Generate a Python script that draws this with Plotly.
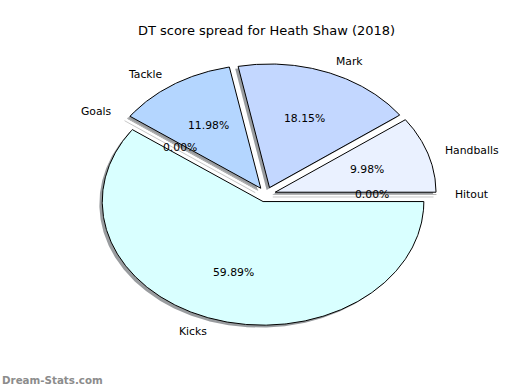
import numpy as np
import plotly.graph_objects as go

# ---- data ----
labels = ["Handballs", "Mark", "Tackle", "Goals", "Kicks", "Hitout"]
values = [9.98, 18.15, 11.98, 0.00, 59.89, 0.00]
colors = ["#eaf1ff", "#c3d7ff", "#b4d6ff", "#c8e0ff", "#d9ffff", "#f0f8ff"]
explode = [0.06, 0.06, 0.06, 0.06, 0.06, 0.06]
title_text = "DT score spread for Heath Shaw (2018)"
watermark = "Dream-Stats.com"

FONT = "DejaVu Sans"
SHADOW_DX, SHADOW_DY = -0.018, -0.02
SHADOW_COLOR = "rgba(70,75,80,0.55)"

total = sum(values)
fracs = [v / total for v in values]
starts = np.cumsum([0] + fracs[:-1]) * 360.0

fig = go.Figure()
shadow_traces, wedge_traces, annotations = [], [], []

for lab, v, f, t1, col, ex in zip(labels, values, fracs, starts, colors, explode):
    t2 = t1 + f * 360.0
    tm = np.deg2rad((t1 + t2) / 2.0)
    cx, cy = ex * np.cos(tm), ex * np.sin(tm)
    if f > 0:
        th = np.deg2rad(np.linspace(t1, t2, max(int(f * 720), 4)))
        xs = np.concatenate([[cx], cx + np.cos(th), [cx]])
        ys = np.concatenate([[cy], cy + np.sin(th), [cy]])
        shadow_traces.append(go.Scatter(x=xs + SHADOW_DX, y=ys + SHADOW_DY, mode="lines",
                                        fill="toself", fillcolor=SHADOW_COLOR,
                                        line=dict(width=0, color=SHADOW_COLOR),
                                        hoverinfo="skip", showlegend=False))
        wedge_traces.append(go.Scatter(x=xs, y=ys, mode="lines", fill="toself",
                                       fillcolor=col, line=dict(color="black", width=1),
                                       name=lab, hoverinfo="name", showlegend=False))
    else:
        xs = [cx, cx + np.cos(tm)]
        ys = [cy, cy + np.sin(tm)]
        shadow_traces.append(go.Scatter(x=[x + SHADOW_DX for x in xs], y=[y + SHADOW_DY for y in ys],
                                        mode="lines", line=dict(color="#c8c8c8", width=1),
                                        hoverinfo="skip", showlegend=False))
        wedge_traces.append(go.Scatter(x=xs, y=ys, mode="lines",
                                       line=dict(color="#b4b4b4", width=1),
                                       name=lab, hoverinfo="name", showlegend=False))
    # label at 1.1 radius
    lx, ly = cx + 1.1 * np.cos(tm), cy + 1.1 * np.sin(tm)
    annotations.append(dict(x=lx, y=ly, xref="x", yref="y", text=lab, showarrow=False,
                            xanchor="left" if lx > 0 else "right", yanchor="middle",
                            font=dict(family=FONT, size=10.8, color="black")))
    # percentage at 0.6 radius
    px, py = cx + 0.6 * np.cos(tm), cy + 0.6 * np.sin(tm)
    annotations.append(dict(x=px, y=py, xref="x", yref="y", text=f"{v:.2f}%", showarrow=False,
                            xanchor="center", yanchor="middle",
                            font=dict(family=FONT, size=10.8, color="black")))

for t in shadow_traces + wedge_traces:
    fig.add_trace(t)

L, R, T, B = 65, 53, 40, 41
W, H = 520, 390
pw, ph = W - L - R, H - T - B
annotations.append(dict(x=(0 - L) / pw, y=(H - B - 380) / ph, xref="paper", yref="paper",
                        text=f"<b>{watermark}</b>", showarrow=False,
                        xanchor="left", yanchor="middle",
                        font=dict(family=FONT, size=10.3, color="#8c8c8c")))

fig.update_layout(
    width=W, height=H,
    margin=dict(l=L, r=R, t=T, b=B, pad=0),
    paper_bgcolor="white", plot_bgcolor="white",
    title=dict(text=title_text, x=266.5 / W, y=1 - 30 / H, xref="container", yref="container",
               xanchor="center", yanchor="middle",
               font=dict(family=FONT, size=13, color="black")),
    xaxis=dict(range=[-1.25, 1.25], visible=False, fixedrange=True),
    yaxis=dict(range=[-1.25, 1.25], visible=False, fixedrange=True),
    annotations=annotations,
    showlegend=False,
)

fig.write_html("out.html", config={"displayModeBar": False},
               post_script="document.body.style.margin='0';document.body.style.overflow='hidden';")
